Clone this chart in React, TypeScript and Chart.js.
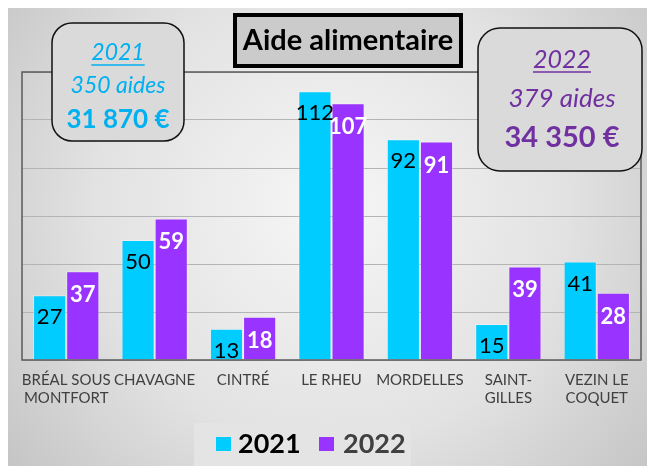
import React, { useEffect, useRef } from "react";
import { Chart, registerables } from "chart.js";

Chart.register(...registerables);

const categories: string[][] = [
  ["BRÉAL SOUS", "MONTFORT"],
  ["CHAVAGNE"],
  ["CINTRÉ"],
  ["LE RHEU"],
  ["MORDELLES"],
  ["SAINT-", "GILLES"],
  ["VEZIN LE", "COQUET"],
];
const seriesNames = ["2021", "2022"];
const values2021 = [27, 50, 13, 112, 92, 15, 41];
const values2022 = [37, 59, 18, 107, 91, 39, 28];
const yTicks = [0, 20, 40, 60, 80, 100, 120];

const titleText = "Aide alimentaire";
const box2021 = ["2021", "350 aides", "31 870 €"];
const box2022 = ["2022", "379 aides", "34 350 €"];

const CYAN = "#00ccff";
const PURPLE = "#9933ff";
const FONT = "Lato, 'Open Sans', sans-serif";

function drawCenteredUnderlined(ctx: CanvasRenderingContext2D, text: string, x: number, y: number, color: string) {
  ctx.fillStyle = color;
  ctx.fillText(text, x, y);
  const w = ctx.measureText(text).width;
  ctx.strokeStyle = color;
  ctx.lineWidth = 1.5;
  ctx.beginPath();
  ctx.moveTo(x - w / 2, y + 12);
  ctx.lineTo(x + w / 2, y + 12);
  ctx.stroke();
}

const decorPlugin = {
  id: "decor",
  beforeDraw(chart: any) {
    const ctx: CanvasRenderingContext2D = chart.ctx;
    const W = chart.width;
    const H = chart.height;
    ctx.save();
    ctx.fillStyle = "#ffffff";
    ctx.fillRect(0, 0, W, H);
    const g = ctx.createRadialGradient(330, 210, 0, 330, 210, 430);
    g.addColorStop(0, "#f6f6f6");
    g.addColorStop(0.55, "#e2e2e2");
    g.addColorStop(1, "#c2c2c2");
    ctx.fillStyle = g;
    ctx.fillRect(8, 8, W - 8, H - 8);
    ctx.restore();
  },
  afterDatasetsDraw(chart: any) {
    const ctx: CanvasRenderingContext2D = chart.ctx;
    ctx.save();
    ctx.textAlign = "center";
    ctx.textBaseline = "middle";
    chart.data.datasets.forEach((ds: any, di: number) => {
      const meta = chart.getDatasetMeta(di);
      meta.data.forEach((bar: any, i: number) => {
        const v = ds.data[i];
        if (di === 0) {
          ctx.font = `normal 22px ${FONT}`;
          ctx.fillStyle = "#000000";
          ctx.fillText(String(v), bar.x, bar.y + 22);
        } else {
          ctx.font = `bold 22px ${FONT}`;
          ctx.fillStyle = "#ffffff";
          ctx.fillText(String(v), bar.x, bar.y + 24);
        }
      });
    });
    ctx.restore();
  },
  afterDraw(chart: any) {
    const ctx: CanvasRenderingContext2D = chart.ctx;
    const a = chart.chartArea;
    ctx.save();
    // plot frame
    ctx.strokeStyle = "#5a5a5a";
    ctx.lineWidth = 1.5;
    ctx.strokeRect(a.left, a.top, a.right - a.left, a.bottom - a.top);

    // title box
    ctx.fillStyle = "#cbcbcb";
    ctx.fillRect(235, 15, 226, 51);
    ctx.strokeStyle = "#000000";
    ctx.lineWidth = 4;
    ctx.strokeRect(235, 15, 226, 51);
    ctx.fillStyle = "#000000";
    ctx.font = `bold 29px ${FONT}`;
    ctx.textAlign = "center";
    ctx.textBaseline = "middle";
    ctx.fillText(titleText, 348, 41);

    // left box 2021
    ctx.beginPath();
    (ctx as any).roundRect(52, 23, 132, 118, 20);
    ctx.fillStyle = "#dadada";
    ctx.fill();
    ctx.strokeStyle = "#111111";
    ctx.lineWidth = 1.5;
    ctx.stroke();
    ctx.font = `italic 23px ${FONT}`;
    drawCenteredUnderlined(ctx, box2021[0], 118, 53, "#00b0f0");
    ctx.fillStyle = "#00b0f0";
    ctx.fillText(box2021[1], 118, 86);
    ctx.font = `bold 26px ${FONT}`;
    ctx.fillText(box2021[2], 118, 120);

    // right box 2022
    ctx.beginPath();
    (ctx as any).roundRect(478, 28, 164, 143, 22);
    ctx.fillStyle = "#dadada";
    ctx.fill();
    ctx.strokeStyle = "#111111";
    ctx.lineWidth = 1.5;
    ctx.stroke();
    ctx.font = `italic 25px ${FONT}`;
    drawCenteredUnderlined(ctx, box2022[0], 562, 60, "#7030a0");
    ctx.fillStyle = "#7030a0";
    ctx.font = `italic 26px ${FONT}`;
    ctx.fillText(box2022[1], 562, 99);
    ctx.font = `bold 29px ${FONT}`;
    ctx.fillText(box2022[2], 562, 138);

    // legend
    ctx.fillStyle = "#e4e4e4";
    ctx.fillRect(194, 423, 217, 43);
    ctx.fillStyle = CYAN;
    ctx.fillRect(216, 437, 15, 14);
    ctx.fillStyle = PURPLE;
    ctx.fillRect(319, 437, 15, 14);
    ctx.textAlign = "left";
    ctx.font = `bold 27px ${FONT}`;
    ctx.fillStyle = "#000000";
    ctx.fillText(seriesNames[0], 238, 444);
    ctx.fillStyle = "#404040";
    ctx.fillText(seriesNames[1], 343, 444);
    ctx.restore();
  },
};

export default function App() {
  const ref = useRef<HTMLCanvasElement>(null);
  useEffect(() => {
    document.body.style.margin = "0";
    const chart = new Chart(ref.current as HTMLCanvasElement, {
      type: "bar",
      data: {
        labels: categories,
        datasets: [
          {
            label: seriesNames[0],
            data: values2021,
            backgroundColor: CYAN,
            borderColor: "rgba(255,255,255,0.35)",
            borderWidth: 1,
            categoryPercentage: 0.75,
            barPercentage: 1,
          },
          {
            label: seriesNames[1],
            data: values2022,
            backgroundColor: PURPLE,
            borderColor: "rgba(255,255,255,0.35)",
            borderWidth: 1,
            categoryPercentage: 0.75,
            barPercentage: 1,
          },
        ],
      },
      options: {
        responsive: false,
        animation: false,
        layout: { padding: { left: 22, top: 72, right: 6, bottom: 0 } },
        plugins: { legend: { display: false }, title: { display: false }, tooltip: { enabled: false } },
        scales: {
          x: {
            grid: { display: false, drawTicks: false },
            border: { display: false },
            ticks: {
              color: "#404040",
              font: { family: FONT, size: 15 },
              padding: 11,
              maxRotation: 0,
              autoSkip: false,
            },
            afterFit: (s: any) => {
              s.height = 106;
            },
          },
          y: {
            min: yTicks[0],
            max: yTicks[yTicks.length - 1],
            afterBuildTicks: (s: any) => {
              s.ticks = yTicks.map((v) => ({ value: v }));
            },
            grid: { color: "#b4b4b4", lineWidth: 1, drawTicks: false },
            border: { display: false },
            ticks: { display: false },
            afterFit: (s: any) => {
              s.width = 0;
            },
          },
        },
      },
      plugins: [decorPlugin],
    });
    return () => chart.destroy();
  }, []);
  return <canvas ref={ref} width={647} height={466} style={{ display: "block" }} />;
}
